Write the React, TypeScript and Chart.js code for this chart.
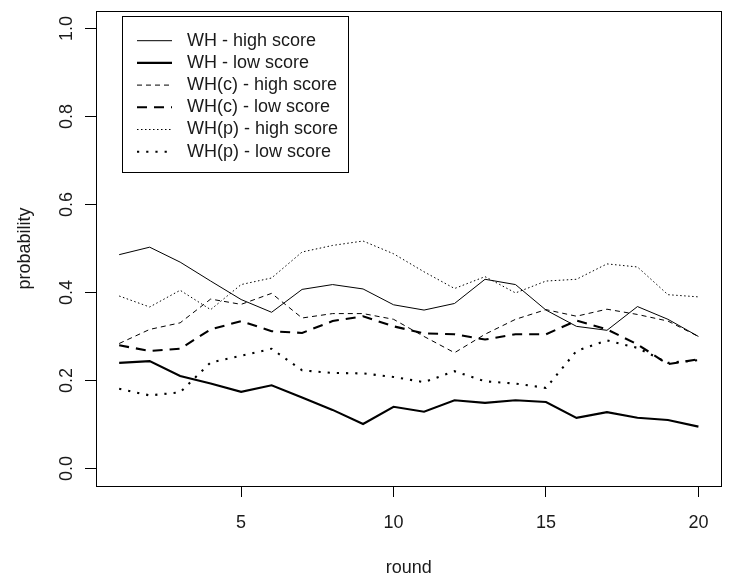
import React, { useEffect, useRef } from "react";
import { Chart, registerables } from "chart.js";

Chart.register(...registerables);

const rounds = [1, 2, 3, 4, 5, 6, 7, 8, 9, 10, 11, 12, 13, 14, 15, 16, 17, 18, 19, 20];
const whHigh = [0.486, 0.503, 0.469, 0.426, 0.384, 0.355, 0.407, 0.418, 0.408, 0.372, 0.36, 0.375, 0.43, 0.418, 0.36, 0.323, 0.314, 0.368, 0.339, 0.3];
const whLow = [0.24, 0.244, 0.21, 0.193, 0.174, 0.189, 0.161, 0.133, 0.101, 0.14, 0.129, 0.155, 0.149, 0.155, 0.151, 0.115, 0.128, 0.115, 0.11, 0.095];
const whcHigh = [0.284, 0.316, 0.331, 0.385, 0.373, 0.398, 0.342, 0.352, 0.352, 0.339, 0.3, 0.263, 0.305, 0.339, 0.361, 0.346, 0.362, 0.35, 0.335, 0.3];
const whcLow = [0.28, 0.267, 0.272, 0.316, 0.335, 0.312, 0.308, 0.335, 0.346, 0.323, 0.307, 0.305, 0.293, 0.305, 0.305, 0.336, 0.316, 0.282, 0.237, 0.248];
const whpHigh = [0.392, 0.367, 0.405, 0.361, 0.418, 0.433, 0.492, 0.507, 0.517, 0.488, 0.447, 0.409, 0.436, 0.399, 0.426, 0.43, 0.465, 0.458, 0.395, 0.39];
const whpLow = [0.181, 0.166, 0.173, 0.241, 0.256, 0.272, 0.223, 0.217, 0.216, 0.208, 0.196, 0.221, 0.198, 0.193, 0.183, 0.267, 0.291, 0.274, 0.24, 0.246];

const seriesLabels = [
  "WH - high score",
  "WH - low score",
  "WH(c) - high score",
  "WH(c) - low score",
  "WH(p) - high score",
  "WH(p) - low score",
];
const xTickValues = [5, 10, 15, 20];
const yTickValues = [0, 0.2, 0.4, 0.6, 0.8, 1.0];

const FONT = '"Liberation Sans", Arial, sans-serif';
const TEXT = "#1a1a1a";

const boxLegendPlugin = {
  id: "boxLegend",
  afterDraw(chart: any) {
    const { ctx, chartArea } = chart;
    ctx.save();
    ctx.strokeStyle = "#000";
    ctx.lineWidth = 1;
    ctx.setLineDash([]);
    ctx.strokeRect(
      Math.round(chartArea.left) + 0.5,
      Math.round(chartArea.top) + 0.5,
      Math.round(chartArea.right - chartArea.left) - 1,
      Math.round(chartArea.bottom - chartArea.top)
    );
    // legend
    const lx = Math.round(chartArea.left + 25.7);
    const ly = Math.round(chartArea.top + 4.7);
    ctx.strokeRect(lx + 0.5, ly + 0.5, 226, 156);
    ctx.font = `18px ${FONT}`;
    ctx.textBaseline = "middle";
    ctx.textAlign = "left";
    chart.data.datasets.forEach((ds: any, i: number) => {
      const y = chartArea.top + 29.7 + i * 22.2;
      ctx.beginPath();
      ctx.setLineDash(ds.borderDash || []);
      ctx.lineWidth = ds.borderWidth;
      ctx.strokeStyle = ds.borderColor;
      ctx.moveTo(chartArea.left + 41, y);
      ctx.lineTo(chartArea.left + 76, y);
      ctx.stroke();
      ctx.setLineDash([]);
      ctx.fillStyle = TEXT;
      ctx.fillText(ds.label, chartArea.left + 91, y);
    });
    ctx.restore();
  },
};

export default function App() {
  const ref = useRef<HTMLCanvasElement>(null);

  useEffect(() => {
    const mk = (vals: number[]) => rounds.map((r, i) => ({ x: r, y: vals[i] }));
    const styles = [
      { data: whHigh, w: 1, dash: [] as number[] },
      { data: whLow, w: 2.1, dash: [] as number[] },
      { data: whcHigh, w: 1, dash: [5, 4] },
      { data: whcLow, w: 2.1, dash: [10, 7] },
      { data: whpHigh, w: 1, dash: [1.5, 2.5] },
      { data: whpLow, w: 2.1, dash: [2.2, 7] },
    ];
    const chart = new Chart(ref.current!, {
      type: "line",
      data: {
        datasets: styles.map((s, i) => ({
          label: seriesLabels[i],
          data: mk(s.data),
          borderColor: "#000",
          backgroundColor: "#000",
          borderWidth: s.w,
          borderDash: s.dash,
          pointRadius: 0,
          tension: 0,
          fill: false,
        })),
      },
      options: {
        animation: false,
        responsive: true,
        maintainAspectRatio: false,
        layout: { padding: { left: 0, top: 11, right: 7.4, bottom: 0 } },
        plugins: { legend: { display: false }, tooltip: { enabled: false } },
        scales: {
          x: {
            type: "linear",
            min: 0.24,
            max: 20.76,
            afterBuildTicks: (scale: any) => {
              scale.ticks = xTickValues.map((v) => ({ value: v }));
            },
            afterFit: (scale: any) => {
              scale.height = 93;
              scale.paddingLeft = 0;
              scale.paddingRight = 0;
            },
            ticks: {
              color: TEXT,
              font: { family: FONT, size: 18 },
              padding: 15,
              maxRotation: 0,
              autoSkip: false,
              callback: (v: any) => String(v),
            },
            grid: {
              display: true,
              drawOnChartArea: false,
              drawTicks: true,
              tickLength: 11,
              color: "#000",
              lineWidth: 1,
            },
            border: { display: false },
            title: {
              display: true,
              text: "round",
              color: TEXT,
              font: { family: FONT, size: 18 },
              padding: { top: 0, bottom: 0 },
            },
          },
          y: {
            type: "linear",
            min: -0.04,
            max: 1.04,
            afterBuildTicks: (scale: any) => {
              scale.ticks = yTickValues.map((v) => ({ value: v }));
            },
            afterFit: (scale: any) => {
              scale.width = 96;
              scale.paddingTop = 0;
              scale.paddingBottom = 0;
            },
            ticks: {
              color: TEXT,
              font: { family: FONT, size: 18 },
              padding: 5.5,
              minRotation: 90,
              maxRotation: 90,
              crossAlign: "center",
              autoSkip: false,
              callback: (v: any) => Number(v).toFixed(1),
            },
            grid: {
              display: true,
              drawOnChartArea: false,
              drawTicks: true,
              tickLength: 11,
              color: "#000",
              lineWidth: 1,
            },
            border: { display: false },
            title: {
              display: true,
              text: "probability",
              color: TEXT,
              font: { family: FONT, size: 18 },
              padding: { top: 14, bottom: 0 },
            },
          },
        },
      },
      plugins: [boxLegendPlugin],
    } as any);
    return () => chart.destroy();
  }, []);

  return (
    <div style={{ position: "absolute", left: 0, top: 0, width: 729, height: 579, background: "#fff" }}>
      <canvas ref={ref} />
    </div>
  );
}
